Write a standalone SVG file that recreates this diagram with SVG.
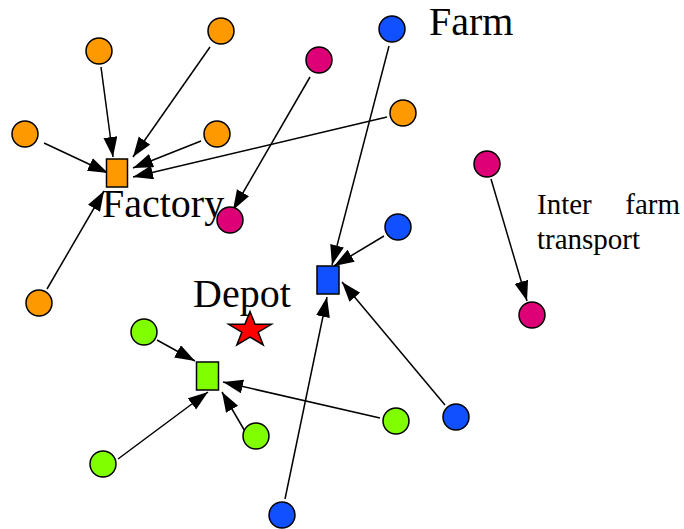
<svg xmlns="http://www.w3.org/2000/svg" width="684" height="529" viewBox="0 0 684 529">
<defs>
<marker id="ah" markerUnits="userSpaceOnUse" markerWidth="22" markerHeight="16" refX="20" refY="7" orient="auto">
<path d="M0,0 L20,7 L0,14 z" fill="#000"/>
</marker>
<style>
.e line{stroke:#000;stroke-width:1.5;marker-end:url(#ah)}
.n circle,.n rect,.n polygon{stroke:#000;stroke-width:1.5}
.o{fill:#FF9900}.m{fill:#DD0077}.b{fill:#1050FF}.g{fill:#80FF00}
.t{font-family:"Liberation Serif","Times New Roman",serif;fill:#000}
</style>
</defs>
<rect width="684" height="529" fill="#fff"/>
<g id="connectors" class="e">
<line x1="101" y1="67" x2="113" y2="157"/>
<line x1="210" y1="47" x2="133" y2="157"/>
<line x1="44" y1="143" x2="108" y2="173"/>
<line x1="201" y1="141" x2="133" y2="168"/>
<line x1="387" y1="117" x2="133" y2="177"/>
<line x1="47" y1="289" x2="104" y2="191"/>
<line x1="310" y1="77" x2="233" y2="210"/>
<line x1="389" y1="46" x2="332" y2="265"/>
<line x1="384" y1="236" x2="334" y2="266"/>
<line x1="445" y1="405" x2="342" y2="282"/>
<line x1="285" y1="499" x2="327" y2="297"/>
<line x1="491" y1="179" x2="527" y2="301"/>
<line x1="157" y1="340" x2="195" y2="361"/>
<line x1="118" y1="459" x2="208" y2="392"/>
<line x1="246" y1="433" x2="222" y2="392"/>
<line x1="380" y1="418" x2="223" y2="382"/>
</g>
<g id="factory" class="n"><rect class="o" x="106.5" y="159" width="21" height="28"/></g>
<g id="farm-hub" class="n"><rect class="b" x="317" y="266" width="22" height="28"/></g>
<g id="green-hub" class="n"><rect class="g" x="196.5" y="362" width="22" height="28"/></g>
<g id="depot" class="n"><polygon fill="#FF0000" points="250,311.5 255.1,324.3 271.4,324.3 258.2,332.2 263.2,345 250,337.1 236.8,345 241.8,332.2 228.6,324.3 244.9,324.3"/></g>
<g id="o1" class="n"><circle class="o" cx="99" cy="51" r="13"/></g>
<g id="o2" class="n"><circle class="o" cx="221" cy="31" r="13"/></g>
<g id="o3" class="n"><circle class="o" cx="25" cy="134" r="13"/></g>
<g id="o4" class="n"><circle class="o" cx="217" cy="134" r="13"/></g>
<g id="o5" class="n"><circle class="o" cx="403" cy="113" r="13"/></g>
<g id="o6" class="n"><circle class="o" cx="39" cy="303" r="13"/></g>
<g id="m1" class="n"><circle class="m" cx="319" cy="60" r="13"/></g>
<g id="m2" class="n"><circle class="m" cx="230" cy="220" r="13"/></g>
<g id="m3" class="n"><circle class="m" cx="487" cy="164" r="13"/></g>
<g id="m4" class="n"><circle class="m" cx="532" cy="315" r="13"/></g>
<g id="b1" class="n"><circle class="b" cx="392" cy="29" r="13"/></g>
<g id="b2" class="n"><circle class="b" cx="398" cy="227" r="13"/></g>
<g id="b3" class="n"><circle class="b" cx="456" cy="417" r="13"/></g>
<g id="b4" class="n"><circle class="b" cx="282" cy="515" r="13"/></g>
<g id="g1" class="n"><circle class="g" cx="144" cy="332" r="13"/></g>
<g id="g2" class="n"><circle class="g" cx="256" cy="436" r="13"/></g>
<g id="g3" class="n"><circle class="g" cx="103" cy="464" r="13"/></g>
<g id="g4" class="n"><circle class="g" cx="396" cy="421" r="13"/></g>
<g id="labels">
<text class="t" x="102" y="217" font-size="40">Factory</text>
<text class="t" x="429" y="35" font-size="40">Farm</text>
<text class="t" x="193" y="307" font-size="40">Depot</text>
<text class="t" x="537" y="214" font-size="29">Inter</text>
<text class="t" x="680" y="214" font-size="29" text-anchor="end">farm</text>
<text class="t" x="537" y="249" font-size="29">transport</text>
</g>
</svg>
